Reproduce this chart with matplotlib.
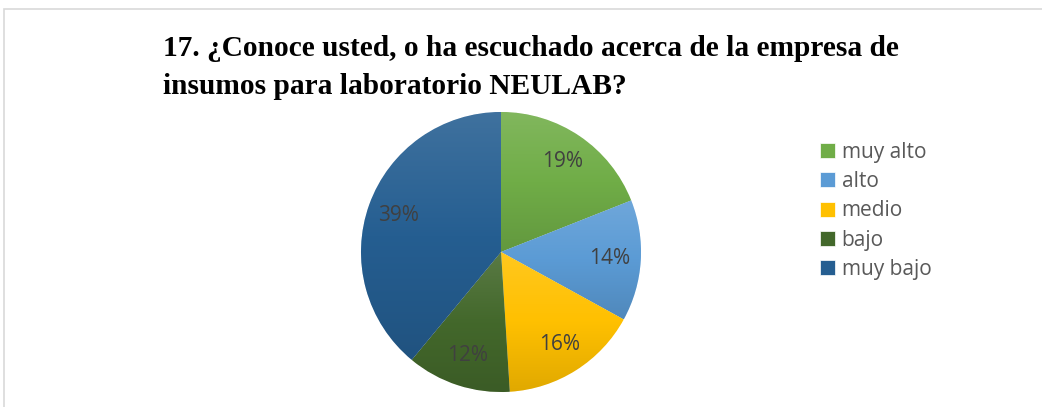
import numpy as np
import matplotlib.pyplot as plt
from matplotlib.colors import LinearSegmentedColormap, to_rgb
from matplotlib.patches import Rectangle

# Pie data
categories = ["muy alto", "alto", "medio", "bajo", "muy bajo"]
shares = [19, 14, 16, 12, 39]
colors = ["#70AD47", "#5B9BD5", "#FFC000", "#43682B", "#255E91"]
title = "17. ¿Conoce usted, o ha escuchado acerca de la empresa de\ninsumos para laboratorio NEULAB?"


def shade(c, f):
    """Blend colour towards white (f>0) or black (f<0)."""
    c = np.array(to_rgb(c))
    return tuple(c + (1 - c) * f) if f > 0 else tuple(c * (1 + f))


W, H = 1042, 407
fig = plt.figure(figsize=(W / 100, H / 100), dpi=100)
fig.patch.set_facecolor("white")

# light frame of the chart area (top and left edges visible)
fig.add_artist(Rectangle((4 / W, -0.1), 1.2, (H - 9) / H + 0.1, transform=fig.transFigure,
                         fill=False, edgecolor="#D9D9D9", linewidth=1.2))

fig.text(163 / W, 1 - 35 / H, title, ha="left", va="top", fontsize=21.2,
         fontweight="bold", family="Liberation Serif", linespacing=1.52)

# pie axes centred at (501, 252), radius ~140 px
r = 140
ax = fig.add_axes([(501 - r) / W, 1 - (252 + r) / H, 2 * r / W, 2 * r / H])
wedges, texts, autotexts = ax.pie(
    shares, colors=colors, startangle=90, counterclock=False,
    autopct="%1.0f%%", pctdistance=0.78,
    wedgeprops=dict(edgecolor="white", linewidth=0.5),
    textprops=dict(color="#404040", fontsize=15, family="Open Sans"))

# vertical gradient inside each wedge, lighter at top
for w, c in zip(wedges, colors):
    cmap = LinearSegmentedColormap.from_list("g", [shade(c, -0.12), c, shade(c, 0.12)])
    verts = w.get_patch_transform().transform(w.get_path().vertices)
    x0, x1 = verts[:, 0].min(), verts[:, 0].max()
    y0, y1 = verts[:, 1].min(), verts[:, 1].max()
    grad = np.linspace(0, 1, 128).reshape(-1, 1)
    im = ax.imshow(grad, cmap=cmap, origin="lower", extent=(x0, x1, y0, y1),
                   aspect="auto", zorder=w.get_zorder() + 0.1)
    im.set_clip_path(w)
for t in autotexts:
    t.set_zorder(5)
ax.set_xlim(-1, 1)
ax.set_ylim(-1, 1)
ax.set_aspect("equal")
ax.axis("off")

leg = fig.legend(wedges, categories, loc="upper left", bbox_to_anchor=(801 / W, 1 - 123 / H),
                 frameon=False, handlelength=0.75, handleheight=0.75, handletextpad=0.3,
                 labelspacing=0.4, prop=dict(family="Open Sans", size=15))
for t in leg.get_texts():
    t.set_color("#595959")

fig.savefig("out.png", dpi=100)
